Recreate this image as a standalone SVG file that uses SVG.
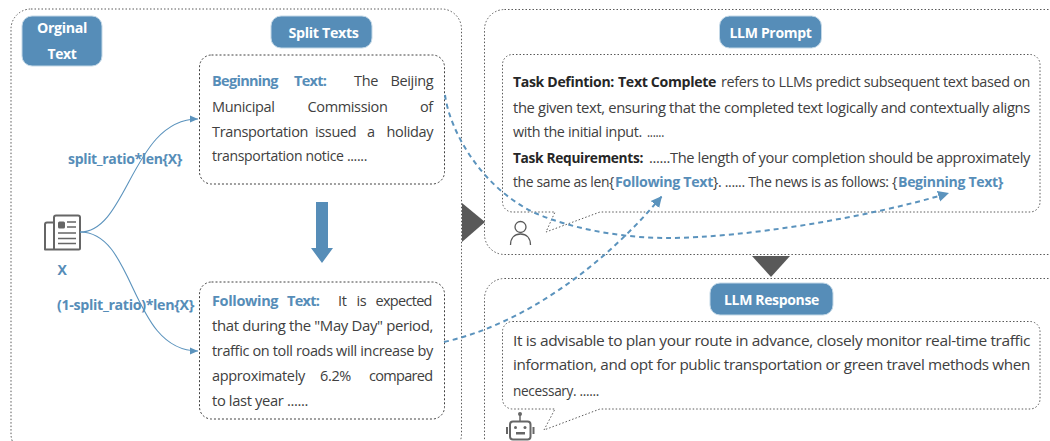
<svg xmlns="http://www.w3.org/2000/svg" width="1050" height="441" viewBox="0 0 1050 441">
<defs>
<marker id="a1" markerWidth="9" markerHeight="8" refX="8" refY="4" orient="auto" markerUnits="userSpaceOnUse"><path d="M0 0.5L8 4L0 7.5z" fill="#5B93BD"/></marker>
<marker id="a2" markerWidth="13" markerHeight="12" refX="11" refY="6" orient="auto" markerUnits="userSpaceOnUse"><path d="M0 0.5L11 6L0 11.5z" fill="#5B93BD"/></marker>
</defs>
<style>
text{font-family:"Open Sans","Noto Sans","Liberation Sans",sans-serif;font-size:14.5px;fill:#404040;letter-spacing:-0.35px}
.k{font-weight:700;fill:#262626}
.u{font-weight:700;fill:#568DB8}
.t{letter-spacing:-0.7px}
.w{font-weight:700;fill:#fff;font-size:14.5px;text-anchor:middle}
.pill{fill:#568DB8;stroke:#C3D8E7;stroke-width:1}
.panel{fill:none;stroke:#595959;stroke-width:1;stroke-dasharray:1.5 2}
.box{fill:#fff;stroke:#404040;stroke-width:1;stroke-dasharray:2 2}
.bub{fill:#fff;stroke:#595959;stroke-width:1;stroke-dasharray:1.5 2}
.thin{fill:none;stroke:#5B93BD;stroke-width:1.1}
.dash{fill:none;stroke:#5B93BD;stroke-width:2;stroke-dasharray:5 4}
.ic{fill:none;stroke:#666;stroke-width:2}
</style>
<rect id="panel-left" class="panel" x="11" y="9" width="450.500" height="445" rx="20"/>
<rect id="panel-prompt" class="panel" x="484.500" y="9.500" width="600" height="245" rx="20"/>
<rect id="panel-response" class="panel" x="484.500" y="278.500" width="600" height="200" rx="20"/>

<g id="original-text">
<rect class="pill" x="22" y="16" width="80" height="50" rx="10"/>
<text class="w" x="62" y="33" textLength="50" lengthAdjust="spacingAndGlyphs">Orginal</text>
<text class="w" x="62" y="59" textLength="29" lengthAdjust="spacingAndGlyphs">Text</text>
</g>
<g id="split-texts">
<rect class="pill" x="271" y="16" width="101" height="32" rx="10"/>
<text class="w" x="323.500" y="38" textLength="70" lengthAdjust="spacingAndGlyphs">Split Texts</text>
</g>
<g id="beginning-text">
<rect class="box" x="199.500" y="55" width="245" height="129" rx="12"/>
<text y="86"><tspan class="u t" x="212">Beginning</tspan><tspan class="u t" x="294">Text:</tspan><tspan x="354">The</tspan><tspan x="390.500">Beijing</tspan></text>
<text y="111.500"><tspan x="212">Municipal</tspan><tspan x="307.500">Commission</tspan><tspan x="420">of</tspan></text>
<text y="137"><tspan x="212">Transportation</tspan><tspan x="315">issued</tspan><tspan x="367">a</tspan><tspan x="386.500">holiday</tspan></text>
<text x="212" y="161" textLength="155" lengthAdjust="spacingAndGlyphs">transportation notice ......</text>
</g>
<g id="following-text">
<rect class="box" x="199.500" y="282" width="245" height="137" rx="12"/>
<text y="305.500"><tspan class="u" x="212">Following</tspan><tspan class="u t" x="287">Text:</tspan><tspan x="338">It</tspan><tspan x="356.500">is</tspan><tspan class="t" x="375.500">expected</tspan></text>
<text x="212" y="331" textLength="221" lengthAdjust="spacingAndGlyphs">that during the "May Day" period,</text>
<text x="212" y="355.500" textLength="221" lengthAdjust="spacingAndGlyphs">traffic on toll roads will increase by</text>
<text y="380.500"><tspan x="212">approximately</tspan><tspan x="320">6.2%</tspan><tspan class="t" x="369">compared</tspan></text>
<text x="212" y="405.500" textLength="96" lengthAdjust="spacingAndGlyphs">to last year  ......</text>
</g>

<g id="source-x">
<path class="ic" d="M56 215.500h22a2 2 0 0 1 2 2v31a1 1 0 0 1-1 1h-34v-25a2 2 0 0 1 2-2h7M54 249v-31.500a2 2 0 0 1 2-2" stroke-linejoin="round"/>
<rect x="58" y="221.500" width="7" height="7" rx="1.500" fill="#666"/>
<path d="M67 222h9M67 227h9M58 233h18M58 238.500h18M58 243.500h18" stroke="#666" stroke-width="1.500" fill="none"/>
<text class="u" x="57.500" y="275" style="font-size:14px">X</text>
</g>
<text class="u" x="68" y="164" textLength="114" lengthAdjust="spacingAndGlyphs">split_ratio*len{X}</text>
<text class="u" x="57" y="310" textLength="137" lengthAdjust="spacingAndGlyphs">(1-split_ratio)*len{X}</text>

<path id="arrow-down" d="M316 202h12v46h5l-11 15l-11-15h5z" fill="#568DB8"/>
<path id="tri-right" d="M462 203L485 222L462 242z" fill="#595959"/>
<path id="tri-down" d="M752 256H790L771 277z" fill="#595959"/>

<g id="llm-prompt">
<rect class="pill" x="719.500" y="16" width="102" height="32" rx="10"/>
<text class="w" x="770.500" y="38" textLength="82" lengthAdjust="spacingAndGlyphs">LLM Prompt</text>
</g>
<g id="prompt-box">
<path class="bub" d="M512.500 54.500H1030a10 10 0 0 1 10 10V202a10 10 0 0 1-10 10H600L546 232L555 212H512.500a10 10 0 0 1-10-10V64.500a10 10 0 0 1 10-10z"/>
<text x="513" y="87" class="k" textLength="101" lengthAdjust="spacingAndGlyphs">Task Defintion:</text>
<text x="618" y="87" class="k" textLength="98" lengthAdjust="spacingAndGlyphs">Text Complete</text>
<text x="721" y="87" textLength="309" lengthAdjust="spacingAndGlyphs">refers to LLMs predict subsequent text based on</text>
<text x="513" y="112.500" textLength="517" lengthAdjust="spacingAndGlyphs">the given text, ensuring that the completed text logically and contextually aligns</text>
<text x="513" y="137" textLength="129" lengthAdjust="spacingAndGlyphs">with the initial input.</text>
<text x="647" y="137" textLength="17" lengthAdjust="spacingAndGlyphs">......</text>
<text x="513" y="162.500" class="k" textLength="130" lengthAdjust="spacingAndGlyphs">Task Requirements:</text>
<text x="649" y="162.500" textLength="381" lengthAdjust="spacingAndGlyphs">......The length of your completion should be approximately</text>
<text x="513" y="187" textLength="101" lengthAdjust="spacingAndGlyphs">the same as len{</text>
<text x="615" y="187" class="u" textLength="98" lengthAdjust="spacingAndGlyphs">Following Text</text>
<text x="713" y="187" textLength="184" lengthAdjust="spacingAndGlyphs">}. ...... The news is as follows: {</text>
<text x="898" y="187" class="u" textLength="105" lengthAdjust="spacingAndGlyphs">Beginning Text}</text>
</g>
<g id="user-icon">
<circle cx="520.500" cy="227" r="5.500" fill="none" stroke="#595959" stroke-width="1.300"/>
<path d="M510.500 245c0-7 4-11 10-11s10 4 10 11" fill="none" stroke="#595959" stroke-width="1.300"/>
</g>

<g id="llm-response">
<rect class="pill" x="710" y="283" width="123" height="32" rx="10"/>
<text class="w" x="771.500" y="305" textLength="95" lengthAdjust="spacingAndGlyphs">LLM Response</text>
</g>
<g id="response-box">
<path class="bub" d="M512.500 321.500H1030a10 10 0 0 1 10 10V399a10 10 0 0 1-10 10H600L544 430L555 409H512.500a10 10 0 0 1-10-10V331.500a10 10 0 0 1 10-10z"/>
<text x="513" y="346" textLength="517" lengthAdjust="spacingAndGlyphs">It is advisable to plan your route in advance, closely monitor real-time traffic</text>
<text x="513" y="370" textLength="517" lengthAdjust="spacingAndGlyphs">information, and opt for public transportation or green travel methods when</text>
<text x="513" y="396" textLength="86" lengthAdjust="spacingAndGlyphs">necessary. ......</text>
</g>
<g id="robot-icon">
<circle cx="520" cy="414" r="2" fill="#666"/>
<path d="M520 415v6" stroke="#666" stroke-width="1.500"/>
<rect x="510" y="421.500" width="20.500" height="18" rx="3" class="ic"/>
<path d="M507 427v7M533.500 427v7" stroke="#666" stroke-width="2"/>
<circle cx="515.500" cy="427.500" r="1.500" fill="#666"/><circle cx="525" cy="427.500" r="1.500" fill="#666"/>
<rect x="516" y="432" width="9" height="2.500" fill="#666"/>
</g>

<g id="connectors">
<path class="thin" marker-end="url(#a1)" d="M80 232C128 232 132 119 198 119"/>
<path class="thin" marker-end="url(#a1)" d="M80 232C136 232 130 351 198 351"/>
<path class="dash" marker-end="url(#a2)" d="M445 95C450 132 482 188 535 213C575 230 625 238 667 238C745 238 870 217 949 193"/>
<path class="dash" marker-end="url(#a2)" d="M444 342C520 325 600 270 662 196"/>
</g>
</svg>
